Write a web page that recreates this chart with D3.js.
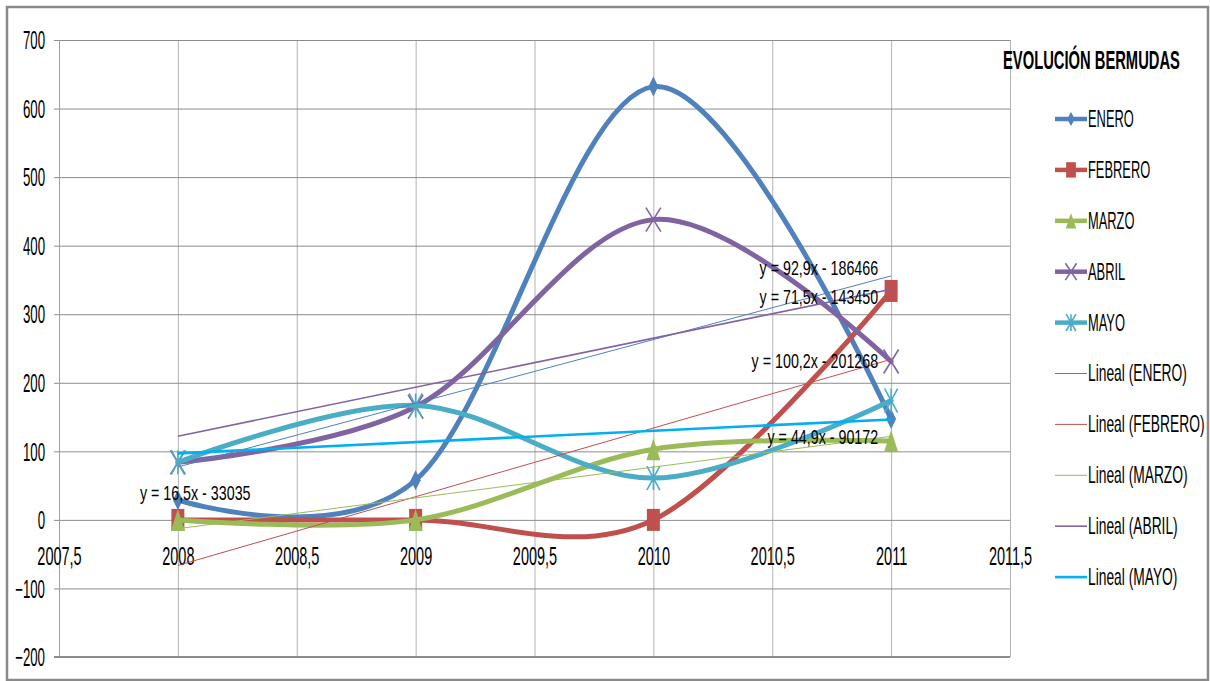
<!DOCTYPE html>
<html>
<head>
<meta charset="utf-8">
<script src="https://cdn.jsdelivr.net/npm/d3@7"></script>
<style>
  html, body { margin: 0; padding: 0; background: #fff; }
  svg { display: block; }
  text { font-family: "Liberation Sans", Arial, sans-serif; fill: #000; }
</style>
</head>
<body>
<svg id="chart" width="1210" height="681"></svg>
<script>
// ---- data -------------------------------------------------------------
const years   = [2008, 2009, 2010, 2011];
const seriesNames = ["ENERO", "FEBRERO", "MARZO", "ABRIL", "MAYO"];
const enero   = [29, 58, 632, 147];
const febrero = [0, 0, 0, 334];
const marzo   = [0, 0, 103, 115];
const abril   = [84, 165, 438, 231];
const mayo    = [84, 167, 61, 174];

// linear trend coefficients (y = a·x + b)
const trendSlopes     = [92.9, 100.2, 44.9, 71.5, 16.5];
const trendIntercepts = [-186466, -201268, -90172, -143450, -33035];

const xTicks = [2007.5, 2008, 2008.5, 2009, 2009.5, 2010, 2010.5, 2011, 2011.5];
const yTicks = [-200, -100, 0, 100, 200, 300, 400, 500, 600, 700];
const chartTitle = "EVOLUCIÓN BERMUDAS";

// ---- setup ------------------------------------------------------------
const values = [enero, febrero, marzo, abril, mayo];
const colors = ["#4F81BD", "#C0504D", "#9BBB59", "#8064A2", "#4BACC6"];
const trendColors = ["#4F81BD", "#C0504D", "#9BBB59", "#8064A2", "#00B0F0"];
const trendWidths = [1, 1, 1, 1.6, 2.6];
const markerTypes = ["diamond", "square", "triangle", "x", "star"];

const locale = d3.formatLocale({ decimal: ",", thousands: ".", grouping: [3], currency: ["", "€"] });
const fmtNum = locale.format(".1~f");
const fmtInt = locale.format("d");

const svg = d3.select("#chart");
const plotLeft = 59, plotRight = 1010, plotTop = 40, plotBottom = 657;

const x = d3.scaleLinear().domain([2007.5, 2011.5]).range([plotLeft, plotRight]);
const y = d3.scaleLinear().domain([-200, 700]).range([plotBottom, plotTop]);

// outer frame
svg.append("rect")
  .attr("x", 7).attr("y", 7).attr("width", 1201).attr("height", 673)
  .attr("fill", "#fff").attr("stroke", "#8a8a8a").attr("stroke-width", 2.5);

// vertical gridlines
svg.append("g")
  .attr("transform", `translate(0,${plotBottom})`)
  .call(d3.axisBottom(x).tickValues(xTicks).tickSize(-(plotBottom - plotTop)).tickFormat(""))
  .call(g => g.select(".domain").remove())
  .call(g => g.selectAll("line").attr("stroke", "#b3b3b3").attr("stroke-width", 1));

// horizontal gridlines
svg.append("g")
  .attr("transform", `translate(${plotLeft},0)`)
  .call(d3.axisLeft(y).tickValues(yTicks).tickSize(-(plotRight - plotLeft)).tickFormat(""))
  .call(g => g.select(".domain").remove())
  .call(g => g.selectAll("line").attr("stroke", "#8c8c8c").attr("stroke-width", 1));

// y axis: short outside ticks + labels
svg.append("g")
  .attr("transform", `translate(${plotLeft},0)`)
  .call(d3.axisLeft(y).tickValues(yTicks).tickSize(5).tickFormat(fmtInt))
  .call(g => g.select(".domain").attr("stroke", "#a0a0a0"))
  .call(g => g.selectAll("line").attr("stroke", "#8c8c8c"))
  .call(g => g.selectAll("text")
    .attr("x", 0).attr("dy", null).attr("y", 0)
    .attr("dominant-baseline", "central")
    .attr("text-anchor", "end")
    .attr("font-size", 25)
    .attr("transform", "translate(-14,0) scale(0.53,1)"));

// bottom edge of the plot
svg.append("line").attr("x1", plotLeft - 5).attr("x2", plotRight).attr("y1", plotBottom).attr("y2", plotBottom)
  .attr("stroke", "#8c8c8c").attr("stroke-width", 2);

// x labels, hung below the zero line
svg.append("g")
  .attr("transform", `translate(0,${y(0)})`)
  .call(d3.axisBottom(x).tickValues(xTicks).tickSize(0).tickFormat(fmtNum))
  .call(g => g.select(".domain").remove())
  .call(g => g.selectAll("text")
    .attr("y", 0).attr("dy", null).attr("x", 0)
    .attr("dominant-baseline", "central")
    .attr("font-size", 25)
    .attr("transform", "translate(0,37) scale(0.58,1)"));

// ---- markers ------------------------------------------------------------
function marker(sel, type, color, w, h) {
  const hw = w / 2, hh = h / 2;
  if (type === "diamond") {
    sel.append("path").attr("d", `M0,${-hh}L${hw},0L0,${hh}L${-hw},0Z`).attr("fill", color);
  } else if (type === "square") {
    sel.append("rect").attr("x", -hw).attr("y", -hh).attr("width", w).attr("height", h).attr("fill", color);
  } else if (type === "triangle") {
    sel.append("path").attr("d", `M0,${-hh}L${hw},${hh}L${-hw},${hh}Z`).attr("fill", color);
  } else if (type === "x") {
    sel.append("path").attr("d", `M${-hw},${-hh}L${hw},${hh}M${hw},${-hh}L${-hw},${hh}`)
      .attr("stroke", color).attr("stroke-width", 1.6).attr("fill", "none");
  } else if (type === "star") {
    sel.append("path").attr("d", `M${-hw},${-hh}L${hw},${hh}M${hw},${-hh}L${-hw},${hh}M0,${-hh}L0,${hh}`)
      .attr("stroke", color).attr("stroke-width", 1.6).attr("fill", "none");
  }
}
const markerSize = {
  diamond: [10, 20], square: [13, 22], triangle: [14, 22], x: [15, 24], star: [13, 24]
};

// ---- smoothed series --------------------------------------------------
const line = d3.line()
  .x((d, i) => x(years[i]))
  .y(d => y(d))
  .curve(d3.curveCardinal.tension(0));

const plot = svg.append("g");
values.forEach((vals, s) => {
  const g = plot.append("g");
  g.append("path")
    .attr("d", line(vals))
    .attr("fill", "none")
    .attr("stroke", colors[s])
    .attr("stroke-width", 5)
    .attr("stroke-linecap", "round");
  vals.forEach((v, i) => {
    const m = g.append("g").attr("transform", `translate(${x(years[i])},${y(v)})`);
    const [w, h] = markerSize[markerTypes[s]];
    marker(m, markerTypes[s], colors[s], w, h);
  });
});

// ---- linear trends ----------------------------------------------------
const xStart = years[0], xEnd = years[years.length - 1];
trendSlopes.forEach((a, s) => {
  const b = trendIntercepts[s];
  plot.append("line")
    .attr("x1", x(xStart)).attr("y1", y(a * xStart + b))
    .attr("x2", x(xEnd)).attr("y2", y(a * xEnd + b))
    .attr("stroke", trendColors[s])
    .attr("stroke-width", trendWidths[s]);
});

// trend equations
const eqText = (a, b) => `y = ${fmtNum(a)}x - ${fmtInt(-b)}`;
const eqPlacement = [
  { at: xEnd, dx: -13, dy: -8, anchor: "end" },
  { at: xEnd, dx: -13, dy: 2, anchor: "end" },
  { at: xEnd, dx: -13, dy: 1, anchor: "end" },
  { at: xEnd, dx: -13, dy: 8, anchor: "end" },
  { at: xStart, dx: -38, dy: 40, anchor: "start" }
];
trendSlopes.forEach((a, s) => {
  const b = trendIntercepts[s];
  const p = eqPlacement[s];
  svg.append("text")
    .attr("text-anchor", p.anchor)
    .attr("dominant-baseline", "central")
    .attr("font-size", 21)
    .attr("transform", `translate(${x(p.at) + p.dx},${y(a * p.at + b) + p.dy}) scale(0.68,1)`)
    .text(eqText(a, b));
});

// ---- title & legend ---------------------------------------------------
svg.append("text")
  .attr("font-size", 25).attr("font-weight", "bold")
  .attr("dominant-baseline", "central")
  .attr("transform", "translate(1003,60) scale(0.59,1)")
  .text(chartTitle);

const legendItems = seriesNames.map((n, i) => ({ label: n, kind: "series", i }))
  .concat(seriesNames.map((n, i) => ({ label: `Lineal (${n})`, kind: "trend", i })));
const legend = svg.append("g");
legendItems.forEach((d, k) => {
  const ly = 119 + k * 50.9;
  const g = legend.append("g").attr("transform", `translate(0,${ly})`);
  if (d.kind === "series") {
    g.append("line").attr("x1", 1055).attr("x2", 1087).attr("y1", 0).attr("y2", 0)
      .attr("stroke", colors[d.i]).attr("stroke-width", 4.5);
    const m = g.append("g").attr("transform", "translate(1071,0)");
    const [w, h] = markerSize[markerTypes[d.i]];
    marker(m, markerTypes[d.i], colors[d.i], w * 0.75, h * 0.7);
  } else {
    g.append("line").attr("x1", 1055).attr("x2", 1087).attr("y1", 0).attr("y2", 0)
      .attr("stroke", trendColors[d.i]).attr("stroke-width", trendWidths[d.i]);
  }
  g.append("text")
    .attr("font-size", 23)
    .attr("dominant-baseline", "central")
    .attr("transform", `translate(1088,0) scale(${d.kind === "series" ? 0.56 : 0.6},1)`)
    .text(d.label);
});
</script>
</body>
</html>
